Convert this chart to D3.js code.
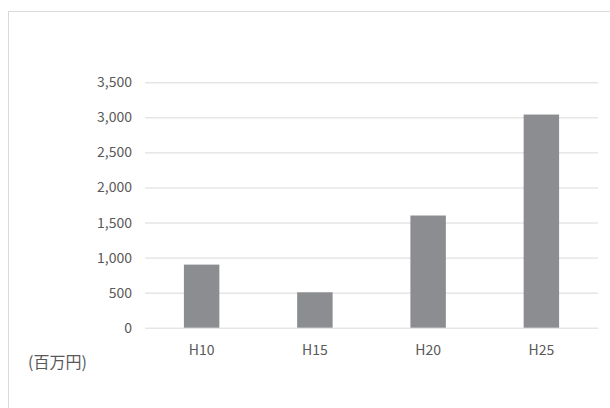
<!DOCTYPE html>
<html><head><meta charset="utf-8">
<script src="https://cdn.jsdelivr.net/npm/d3@7"></script>
<style>body{margin:0;background:#fff}svg{display:block}text{font-family:"Noto Sans CJK JP","Noto Sans",sans-serif;fill:#595959}</style>
</head><body>
<script>
const categories = ["H10","H15","H20","H25"];
const values = [900, 505, 1600, 3040];
const yTicks = [0,500,1000,1500,2000,2500,3000,3500];
const unitLabel = "(百万円)";

const W = 610, H = 408;
const svg = d3.select("body").append("svg").attr("width", W).attr("height", H);
svg.append("rect").attr("x", 8.5).attr("y", 11.5).attr("width", 620).attr("height", 420)
  .attr("fill", "#fff").attr("stroke", "#d9d9d9");

const x = d3.scaleBand().domain(categories).range([145, 598]).paddingInner(0.687).paddingOuter(0.3435);
const y = d3.scaleLinear().domain([0, 3500]).range([327.7, 82.3]);

const yAxis = svg.append("g").attr("transform", "translate(145,0)")
  .call(d3.axisLeft(y).tickValues(yTicks).tickSize(-(598-145)).tickPadding(13).tickFormat(d3.format(",")));
yAxis.select(".domain").remove();
yAxis.selectAll(".tick line").attr("stroke", "#d9d9d9").attr("stroke-width", 1);
yAxis.selectAll(".tick text").attr("font-size", 14).style("fill", "#595959");

svg.append("g").selectAll("rect").data(values).join("rect")
  .attr("x", (d,i) => x(categories[i])).attr("width", x.bandwidth())
  .attr("y", d => y(d)).attr("height", d => y(0) - y(d)).attr("fill", "#8c8d90");

const xAxis = svg.append("g").attr("transform", `translate(0,${y(0)})`)
  .call(d3.axisBottom(x).tickSize(0).tickPadding(17.4));
xAxis.select(".domain").remove();
xAxis.selectAll(".tick text").attr("font-size", 14).style("fill", "#595959");

svg.append("text").attr("x", 28).attr("y", 361).attr("dominant-baseline", "central")
  .attr("font-size", 16).text(unitLabel);
</script>
</body></html>
